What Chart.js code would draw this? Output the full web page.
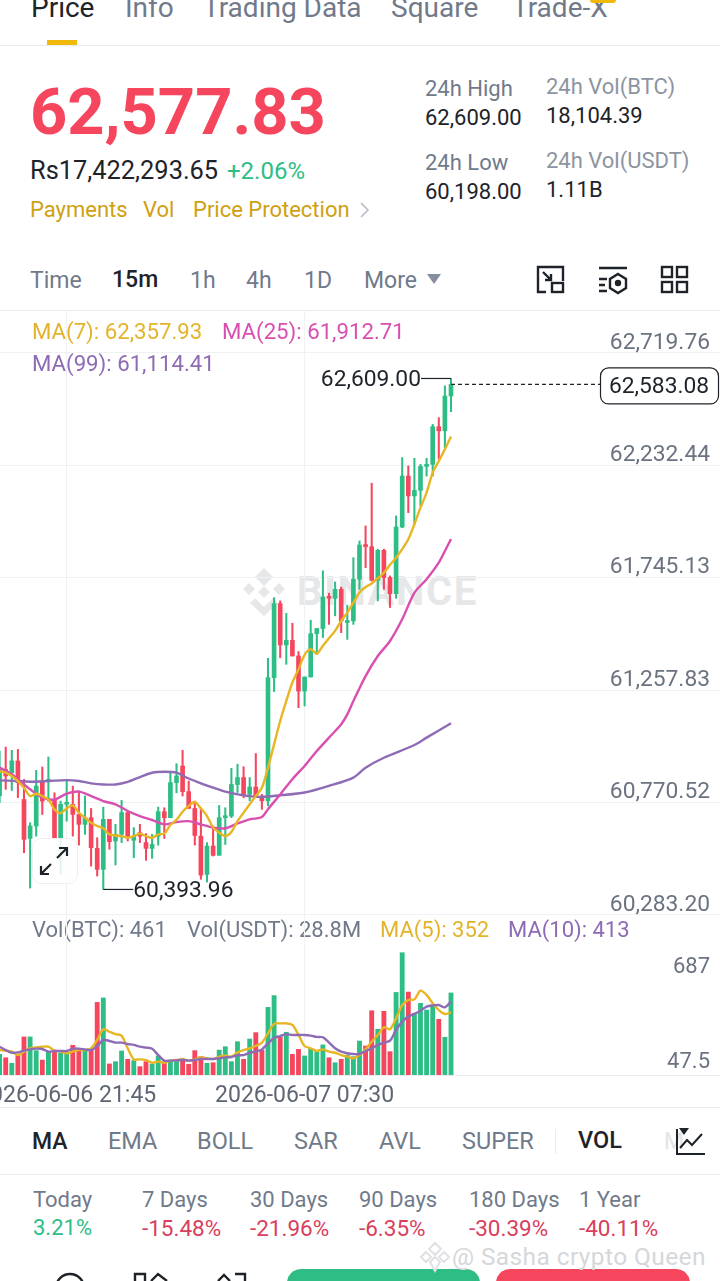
<!DOCTYPE html>
<html>
<head>
<meta charset="utf-8">
<title>BTC/USDT 15m</title>
<script src="https://cdn.jsdelivr.net/npm/chart.js@4"></script>
<style>
html, body { margin: 0; padding: 0; background: #fff; }
body { position: relative; width: 720px; height: 1281px; overflow: hidden; font-family: Roboto, sans-serif; color: #1e2329; }
.t { position: absolute; white-space: nowrap; line-height: 1; }
.grey { color: #707a8a; }
.line { position: absolute; left: 0; width: 720px; height: 1px; background: #eaecef; }
canvas { position: absolute; left: 0; }
svg { position: absolute; }
</style>
</head>
<body>
<!-- top tabs -->
<div class="t" style="left:31px;top:-6px;font-size:28px">Price</div>
<div class="t grey" style="left:125px;top:-6px;font-size:28px">Info</div>
<div class="t grey" style="left:203px;top:-6px;font-size:28px">Trading Data</div>
<div class="t grey" style="left:391px;top:-6px;font-size:28px">Square</div>
<div class="t grey" style="left:512px;top:-6px;font-size:28px">Trade-X</div>
<div style="position:absolute;left:590px;top:0;width:26px;height:3px;border-radius:0 0 4px 4px;background:#f0b90b"></div>
<div style="position:absolute;left:47px;top:40px;width:30px;height:5px;background:#f0b90b"></div>
<div class="line" style="top:45px"></div>

<!-- price header -->
<div class="t" style="left:30px;top:80px;font-size:65px;font-weight:700;color:#f6465d">62,577.83</div>
<div class="t" style="left:30px;top:158px;font-size:25.4px">Rs17,422,293.65</div>
<div class="t" style="left:227px;top:159px;font-size:24px;color:#2ebd85">+2.06%</div>
<div class="t" style="left:30px;top:199px;font-size:22px;color:#d0a012">Payments</div>
<div class="t" style="left:143px;top:199px;font-size:22px;color:#d0a012">Vol</div>
<div class="t" style="left:193px;top:199px;font-size:22px;color:#d0a012">Price Protection</div>
<svg style="left:358px;top:200px" width="14" height="20"><path d="M3 3l7 7-7 7" fill="none" stroke="#b7bdc6" stroke-width="1.6"/></svg>

<div class="t grey" style="left:425px;top:78px;font-size:22px">24h High</div>
<div class="t" style="left:425px;top:107px;font-size:22px">62,609.00</div>
<div class="t grey" style="left:425px;top:152px;font-size:22px">24h Low</div>
<div class="t" style="left:425px;top:181px;font-size:22px">60,198.00</div>
<div class="t grey" style="left:546px;top:76px;font-size:22px;opacity:.8">24h Vol(BTC)</div>
<div class="t" style="left:546px;top:105px;font-size:22px">18,104.39</div>
<div class="t grey" style="left:546px;top:150px;font-size:22px;opacity:.8">24h Vol(USDT)</div>
<div class="t" style="left:546px;top:179px;font-size:22px">1.11B</div>

<!-- interval row -->
<div class="t grey" style="left:30px;top:269px;font-size:23px">Time</div>
<div class="t" style="left:112px;top:268px;font-size:23px;font-weight:500">15m</div>
<div class="t grey" style="left:190px;top:269px;font-size:23px">1h</div>
<div class="t grey" style="left:246px;top:269px;font-size:23px">4h</div>
<div class="t grey" style="left:304px;top:269px;font-size:23px">1D</div>
<div class="t grey" style="left:364px;top:269px;font-size:23px">More</div>
<svg style="left:426px;top:273px" width="16" height="12"><path d="M1 1h14l-7 10z" fill="#848e9c"/></svg>
<svg style="left:536px;top:265px" width="30" height="30" fill="none" stroke="#1e2329" stroke-width="2.4"><path d="M10 27H2V2h25v14"/><rect x="16" y="18" width="11" height="9"/><path d="M7 7l8 8M15 9v6H9"/></svg>
<svg style="left:597px;top:265px" width="32" height="30" fill="none" stroke="#1e2329" stroke-width="2.4"><path d="M2 3h28M2 14h8M2 26h8M2 20h6"/><path d="M21 9l8 5v9l-8 5-8-5v-9z"/><circle cx="21" cy="18" r="2" fill="#1e2329"/></svg>
<svg style="left:660px;top:265px" width="30" height="30" fill="none" stroke="#1e2329" stroke-width="2.4"><rect x="2" y="2" width="10" height="10"/><rect x="17" y="2" width="10" height="10"/><rect x="2" y="17" width="10" height="10"/><rect x="17" y="17" width="10" height="10"/></svg>
<div class="line" style="top:310px"></div>

<!-- watermark under the chart -->
<svg style="left:240px;top:568px" width="48" height="48" fill="#e6e7e9"><path d="M24 0l9 9-9 9-9-9zM9 15l6 6-6 6-6-6zM39 15l6 6-6 6-6-6zM24 18l6 6-6 6-6-6zM15 30l9 9 9-9 5 5-14 13-14-13z"/></svg>
<div class="t" style="left:297px;top:572px;font-size:40px;font-weight:700;letter-spacing:1.6px;color:#e6e7e9">BINANCE</div>

<canvas id="priceChart" width="720" height="606" style="top:311px"></canvas>

<div class="t" style="left:32px;top:320px;font-size:22.2px;color:#e3b32a">MA(7): 62,357.93</div>
<div class="t" style="left:222px;top:320px;font-size:22.2px;color:#d94fb0">MA(25): 61,912.71</div>
<div class="t" style="left:32px;top:352px;font-size:22.2px;color:#8e6bb5">MA(99): 61,114.41</div>

<!-- expand button -->
<div style="position:absolute;left:32px;top:838px;width:44px;height:44px;border:1px solid #eeeff1;border-radius:9px;background:rgba(255,255,255,.85)"></div>
<svg style="left:38px;top:845px" width="32" height="32" fill="none" stroke="#1e2329" stroke-width="2.2"><path d="M3 29L13 19M19 13L29 3M3 21v8h8M21 3h8v8"/></svg>

<div class="t grey" style="left:32px;top:919px;font-size:22px">Vol(BTC): 461</div>
<div class="t grey" style="left:187px;top:919px;font-size:22px">Vol(USDT): 28.8M</div>
<div class="t" style="left:380px;top:919px;font-size:22px;color:#e3b32a">MA(5): 352</div>
<div class="t" style="left:508px;top:919px;font-size:22px;color:#8e6bb5">MA(10): 413</div>

<canvas id="volChart" width="720" height="192" style="top:915px"></canvas>
<div class="line" style="top:1075px"></div>
<div class="line" style="top:1107px"></div>

<!-- indicator tabs -->
<div class="t" style="left:32px;top:1130px;font-size:23px;font-weight:500">MA</div>
<div class="t grey" style="left:108px;top:1130px;font-size:23.5px">EMA</div>
<div class="t grey" style="left:197px;top:1130px;font-size:23.5px">BOLL</div>
<div class="t grey" style="left:294px;top:1130px;font-size:23.5px">SAR</div>
<div class="t grey" style="left:379px;top:1130px;font-size:23.5px">AVL</div>
<div class="t grey" style="left:462px;top:1130px;font-size:23.5px">SUPER</div>
<div style="position:absolute;left:555px;top:1129px;width:1px;height:25px;background:#eaecef"></div>
<div class="t" style="left:578px;top:1129px;font-size:23.5px;font-weight:500">VOL</div>
<div class="t" style="left:664px;top:1130px;font-size:23px;color:#e3e5e8">M</div>
<svg style="left:675px;top:1126px" width="32" height="30" fill="none" stroke="#1e2329" stroke-width="2"><path d="M2 3v25h28"/><path d="M5 22l7-8 5 5 10-11" /><path d="M4 2h10l-5 7z" fill="#1e2329" stroke="none"/></svg>
<div class="line" style="top:1174px"></div>

<!-- performance row -->
<div class="t grey" style="left:33px;top:1189px;font-size:22px">Today</div>
<div class="t grey" style="left:142px;top:1189px;font-size:22px">7 Days</div>
<div class="t grey" style="left:250px;top:1189px;font-size:22px">30 Days</div>
<div class="t grey" style="left:359px;top:1189px;font-size:22px">90 Days</div>
<div class="t grey" style="left:469px;top:1189px;font-size:22px">180 Days</div>
<div class="t grey" style="left:579px;top:1189px;font-size:22px">1 Year</div>
<div class="t" style="left:33px;top:1217px;font-size:22px;color:#2ebd85">3.21%</div>
<div class="t" style="left:142px;top:1217px;font-size:22.5px;color:#d9405c">-15.48%</div>
<div class="t" style="left:250px;top:1217px;font-size:22.5px;color:#d9405c">-21.96%</div>
<div class="t" style="left:359px;top:1217px;font-size:22.5px;color:#d9405c">-6.35%</div>
<div class="t" style="left:469px;top:1217px;font-size:22.5px;color:#d9405c">-30.39%</div>
<div class="t" style="left:579px;top:1217px;font-size:22.5px;color:#d9405c">-40.11%</div>

<!-- bottom bar, cut off by the screenshot -->
<svg style="left:54px;top:1272px" width="32" height="9" fill="none" stroke="#1e2329" stroke-width="2.4"><circle cx="16" cy="16" r="14"/></svg>
<svg style="left:133px;top:1272px" width="36" height="9" fill="none" stroke="#1e2329" stroke-width="2.4"><path d="M2 9V2h10v7M18 9l7-7 9 7"/></svg>
<svg style="left:215px;top:1272px" width="34" height="9" fill="none" stroke="#1e2329" stroke-width="2.4"><path d="M3 9l6-6 6 6M20 2h10v7"/></svg>
<div style="position:absolute;left:287px;top:1269px;width:193px;height:30px;border-radius:14px;background:#2ebd85"></div>
<div style="position:absolute;left:496px;top:1269px;width:194px;height:30px;border-radius:14px;background:#f6465d"></div>
<svg style="left:420px;top:1241px" width="30" height="32" fill="none" stroke="#dfe1e4" stroke-width="2"><path d="M15 2l6 6-6 6-6-6zM6 11l5 5-5 5-5-5zM24 11l5 5-5 5-5-5zM15 16l5 5-5 9-5-9z"/></svg>
<div class="t" style="left:452px;top:1245px;font-size:24.5px;color:#d5d7da;letter-spacing:.4px">@ Sasha crypto Queen</div>

<script>
// one entry per 15m candle
const candleOpen = [
  60799, 60914, 60900, 60951, 60784, 60615, 60669, 60864, 60861, 60784,
  60618, 60763, 60763, 60719, 60676, 60705, 60572, 60481, 60698, 60604,
  60633, 60727, 60607, 60640, 60597, 60572, 60625, 60731, 60705, 60857,
  60929, 60818, 60745, 60625, 60459, 60582, 60542, 60705, 60712, 60849,
  60879, 60806, 60838, 60799, 60778, 61312, 61633, 61454, 61474, 61406,
  61254, 61315, 61503, 61525, 61662, 61656, 61695, 61551, 61558, 61739,
  61887, 61880, 61734, 61864, 61746, 61676, 61965, 62186, 62100, 62124,
  62228, 62237, 62400, 62382, 62533
];
const candleClose = [
  60914, 60886, 60951, 60857, 60611, 60669, 60842, 60777, 60871, 60618,
  60763, 60770, 60719, 60676, 60705, 60575, 60481, 60698, 60601, 60633,
  60727, 60625, 60625, 60625, 60572, 60589, 60731, 60705, 60857, 60886,
  60818, 60745, 60628, 60456, 60582, 60542, 60705, 60712, 60849, 60879,
  60806, 60838, 60799, 60778, 61312, 61633, 61454, 61474, 61406, 61254,
  61315, 61503, 61525, 61662, 61656, 61695, 61558, 61558, 61739, 61887,
  61880, 61734, 61864, 61746, 61676, 61965, 62186, 62100, 62124, 62228,
  62237, 62400, 62382, 62533, 62583.08
];
const candleHigh = [
  60994, 61011, 60997, 61001, 60871, 60683, 60910, 60925, 60968, 60813,
  60777, 60864, 60842, 60821, 60799, 60745, 60618, 60751, 60698, 60676,
  60780, 60734, 60662, 60676, 60636, 60633, 60751, 60748, 60900, 60939,
  60997, 60864, 60777, 60748, 60597, 60669, 60758, 60748, 60919, 60937,
  60926, 60879, 60983, 60806, 61396, 61659, 61645, 61591, 61548, 61425,
  61315, 61561, 61525, 61775, 61678, 61727, 61705, 61626, 61832, 61905,
  61970, 62155, 61869, 61869, 61753, 62013, 62266, 62230, 62263, 62237,
  62263, 62410, 62439, 62577, 62609
];
const candleLow = [
  60770, 60828, 60823, 60792, 60553, 60400, 60625, 60719, 60777, 60615,
  60462, 60690, 60625, 60586, 60633, 60495, 60452, 60393.96, 60568, 60500,
  60597, 60604, 60532, 60597, 60520, 60529, 60586, 60615, 60705, 60813,
  60799, 60748, 60586, 60438, 60426, 60539, 60542, 60589, 60705, 60814,
  60792, 60778, 60799, 60741, 60756, 61252, 61399, 61370, 61406, 61182,
  61189, 61315, 61413, 61486, 61543, 61580, 61507, 61478, 61543, 61695,
  61789, 61731, 61645, 61695, 61616, 61656, 61962, 62027, 61977, 62056,
  62186, 62186, 62259, 62309, 62465
];
const volumes = [
  116, 97, 66, 112, 214, 214, 137, 84, 131, 131,
  122, 118, 167, 140, 140, 140, 408, 433, 62, 75,
  135, 88, 81, 47, 75, 62, 107, 75, 75, 84,
  84, 60, 137, 103, 66, 69, 140, 159, 75, 187,
  88, 202, 238, 140, 380, 446, 215, 240, 116, 144,
  107, 150, 131, 169, 97, 69, 88, 112, 103, 191,
  163, 361, 257, 358, 131, 464, 687, 466, 347, 403,
  365, 393, 313, 212, 461
];

const ma7 = [
  60907, 60900, 60886, 60864, 60835, 60799, 60809, 60799, 60784, 60741,
  60725, 60745, 60758, 60727, 60705, 60683, 60669, 60659, 60633, 60628,
  60625, 60618, 60625, 60636, 60625, 60618, 60633, 60636, 60673, 60696,
  60731, 60756, 60773, 60745, 60712, 60662, 60640, 60625, 60643, 60690,
  60727, 60763, 60799, 60835, 60922, 61023, 61124, 61211, 61291, 61348,
  61411, 61435, 61416, 61450, 61483, 61515, 61558, 61594, 61637, 61681,
  61705, 61720, 61743, 61767, 61801, 61832, 61869, 61912, 61977, 62049,
  62114, 62201, 62251, 62302, 62357.93
];
// the slower averages are smooth, so these are read only at the candles listed
const ma25Index = [0, 2, 3, 5, 7, 9, 11, 13, 15, 17, 19, 21, 23, 25, 27, 29, 31, 33, 35, 37, 39, 41, 43, 44, 46, 48, 50, 52, 54, 56, 57, 58, 60, 62, 64, 66, 68, 70, 72, 73, 74];
const ma25 = [
  60922, 60893, 60871, 60828, 60792, 60784, 60809, 60818, 60799, 60777,
  60763, 60734, 60712, 60695, 60676, 60686, 60690, 60676, 60662, 60659,
  60680, 60698, 60708, 60742, 60806, 60872, 60929, 60994, 61052, 61110,
  61153, 61211, 61319, 61406, 61471, 61565, 61680, 61739, 61811, 61861, 61912.71
];
const ma99Index = [0, 3, 5, 8, 11, 13, 15, 17, 19, 21, 23, 25, 27, 29, 31, 33, 35, 37, 40, 43, 46, 50, 54, 58, 60, 63, 68, 70, 74];
const ma99 = [
  60867, 60864, 60861, 60864, 60868, 60864, 60854, 60849, 60849, 60860,
  60881, 60900, 60904, 60900, 60875, 60854, 60835, 60818, 60802, 60795,
  60802, 60814, 60843, 60879, 60922, 60965, 61020, 61052, 61114.41
];
const volMa5 = [
  140, 137, 131, 112, 131, 150, 155, 159, 159, 137,
  131, 122, 131, 140, 140, 150, 197, 257, 243, 230,
  221, 150, 88, 88, 84, 69, 75, 69, 81, 84,
  90, 81, 88, 99, 94, 90, 103, 109, 103, 127,
  140, 150, 163, 182, 234, 287, 290, 290, 281, 225,
  163, 150, 135, 144, 131, 125, 112, 103, 94, 112,
  144, 187, 225, 268, 257, 318, 393, 421, 425, 474,
  450, 403, 365, 343, 352
];
const volMa10 = [
  159, 140, 125, 127, 137, 144, 148, 146, 131, 135,
  135, 135, 148, 148, 144, 140, 163, 197, 191, 182,
  182, 174, 169, 159, 154, 148, 112, 81, 81, 82,
  84, 81, 84, 90, 90, 90, 94, 99, 101, 111,
  112, 125, 131, 144, 178, 208, 219, 229, 225, 225,
  225, 221, 214, 212, 182, 150, 131, 122, 118, 118,
  135, 150, 169, 182, 193, 253, 300, 328, 343, 361,
  384, 391, 393, 380, 413
];

const timeTicks = [11, 50];
const timeLabels = ['2026-06-06 21:45', '2026-06-07 07:30'];
const priceTicks = [60283.20, 60770.52, 61257.83, 61745.13, 62232.44, 62719.76];
const priceLabels = ['60,283.20', '60,770.52', '61,257.83', '61,745.13', '62,232.44', '62,719.76'];
const volTopTick = 687;
const volBottomTick = 47.5;

const UP = '#2ebd85';
const DOWN = '#f6465d';
const YELLOW = '#e8b523';
const PINK = '#d94fb0';
const PURPLE = '#8e6bb5';
const GRID = '#f0f1f3';
const TICK = '#6b7380';
const FONT = 'Roboto, sans-serif';

// the first candle sits half off the left edge, candles are 6.1px apart
const xMin = 0.066;
const xMax = xMin + 720 / 6.1;

const candleColors = candleOpen.map((o, i) => (candleClose[i] >= o ? UP : DOWN));
const wicks = candleLow.map((l, i) => ({x: i, y: [l, candleHigh[i]]}));
const bodies = candleOpen.map((o, i) => ({x: i, y: [o, candleClose[i]]}));
const volBars = volumes.map((v, i) => ({x: i, y: v}));
const seq = arr => arr.map((v, i) => ({x: i, y: v}));
const picked = (idx, arr) => arr.map((v, i) => ({x: idx[i], y: v}));

function line(data, color, width) {
    return {type: 'line', data, borderColor: color, borderWidth: width, pointRadius: 0,
        tension: 0.3, order: 0};
}

// let labels run off the canvas instead of shrinking the plot area
function noPad(scale) {
    scale.paddingLeft = 0;
    scale.paddingRight = 0;
    scale.paddingTop = 0;
    scale.paddingBottom = 0;
}
function noPadY(scale) {
    noPad(scale);
    scale.width = 0;
}

// high / low / last price markers
const priceMarkers = {
    id: 'priceMarkers',
    afterDatasetsDraw(chart) {
        const {ctx, scales: {x, y}} = chart;
        const last = candleClose.length - 1;
        const hi = candleHigh.indexOf(Math.max(...candleHigh));
        const lo = candleLow.indexOf(Math.min(...candleLow));
        ctx.save();
        ctx.font = '22.8px ' + FONT;
        ctx.fillStyle = '#1e2329';
        ctx.strokeStyle = '#1e2329';
        ctx.lineWidth = 1.2;
        ctx.textBaseline = 'middle';

        const hiX = x.getPixelForValue(hi), hiY = y.getPixelForValue(candleHigh[hi]);
        ctx.beginPath();
        ctx.moveTo(hiX, hiY);
        ctx.lineTo(hiX - 30, hiY);
        ctx.stroke();
        ctx.textAlign = 'right';
        ctx.fillText('62,609.00', hiX - 30, hiY + 2);

        const loX = x.getPixelForValue(lo), loY = y.getPixelForValue(candleLow[lo]);
        ctx.beginPath();
        ctx.moveTo(loX, loY);
        ctx.lineTo(loX + 30, loY);
        ctx.stroke();
        ctx.textAlign = 'left';
        ctx.fillText('60,393.96', loX + 30, loY + 2);

        const lastX = x.getPixelForValue(last), lastY = y.getPixelForValue(candleClose[last]);
        ctx.setLineDash([4, 3]);
        ctx.beginPath();
        ctx.moveTo(lastX, lastY);
        ctx.lineTo(600, lastY);
        ctx.stroke();
        ctx.setLineDash([]);
        ctx.fillStyle = '#fff';
        ctx.beginPath();
        ctx.roundRect(600.5, lastY - 16.5, 118, 36, 8);
        ctx.fill();
        ctx.stroke();
        ctx.fillStyle = '#1e2329';
        ctx.textAlign = 'center';
        ctx.fillText('62,583.08', 659, lastY + 2.5);
        ctx.restore();
    }
};

new Chart(document.getElementById('priceChart'), {
    type: 'bar',
    data: {
        datasets: [
            line(seq(ma7), YELLOW, 2.4),
            line(picked(ma25Index, ma25), PINK, 2.4),
            line(picked(ma99Index, ma99), PURPLE, 2.4),
            {data: bodies, backgroundColor: candleColors, barThickness: 4, minBarLength: 2, grouped: false, order: 1},
            {data: wicks, backgroundColor: candleColors, barThickness: 1.4, grouped: false, order: 2}
        ]
    },
    options: {
        responsive: false,
        animation: false,
        layout: {padding: 0},
        plugins: {legend: {display: false}, tooltip: {enabled: false}},
        scales: {
            x: {
                type: 'linear', min: xMin, max: xMax, offset: false,
                afterBuildTicks: s => { s.ticks = timeTicks.map(v => ({value: v})); },
                afterFit: noPad,
                grid: {color: GRID, drawTicks: false, offset: false},
                border: {display: false},
                ticks: {display: false}
            },
            y: {
                position: 'right', min: 60274.5, max: 62901.5,
                afterBuildTicks: s => { s.ticks = priceTicks.map(v => ({value: v})); },
                afterFit: noPadY,
                grid: {color: GRID, drawTicks: false},
                border: {display: false},
                ticks: {
                    mirror: true, padding: -10, labelOffset: -10, autoSkip: false,
                    color: TICK, font: {family: FONT, size: 22.8},
                    callback: v => priceLabels[priceTicks.indexOf(v)]
                }
            }
        }
    },
    plugins: [priceMarkers]
});

new Chart(document.getElementById('volChart'), {
    type: 'bar',
    data: {
        datasets: [
            line(seq(volMa10), PURPLE, 2.4),
            line(seq(volMa5), YELLOW, 2.4),
            {data: volBars, backgroundColor: candleColors, barThickness: 4.2, grouped: false, order: 1}
        ]
    },
    options: {
        responsive: false,
        animation: false,
        layout: {padding: 0},
        plugins: {legend: {display: false}, tooltip: {enabled: false}},
        scales: {
            x: {
                type: 'linear', min: xMin, max: xMax, offset: false,
                afterBuildTicks: s => { s.ticks = timeTicks.map(v => ({value: v})); },
                afterFit: s => { noPad(s); s.height = 32; },
                grid: {color: GRID, drawTicks: false, offset: false},
                border: {display: false},
                ticks: {
                    autoSkip: false, maxRotation: 0, padding: 7,
                    color: '#5e6673', font: {family: FONT, size: 23},
                    callback: v => timeLabels[timeTicks.indexOf(v)]
                }
            },
            y: {
                position: 'right', min: 0, max: 899,
                afterBuildTicks: s => { s.ticks = [{value: volBottomTick}]; },
                afterFit: noPadY,
                grid: {display: false},
                border: {display: false},
                ticks: {
                    mirror: true, padding: -10, labelOffset: -4,
                    color: TICK, font: {family: FONT, size: 22},
                    callback: () => String(volBottomTick)
                }
            },
            yTop: {
                position: 'right', min: 0, max: 899,
                afterBuildTicks: s => { s.ticks = [{value: volTopTick}]; },
                afterFit: noPadY,
                grid: {display: false},
                border: {display: false},
                ticks: {
                    mirror: true, padding: -10, labelOffset: 15,
                    color: TICK, font: {family: FONT, size: 22},
                    callback: () => String(volTopTick)
                }
            }
        }
    }
});
</script>
</body>
</html>
